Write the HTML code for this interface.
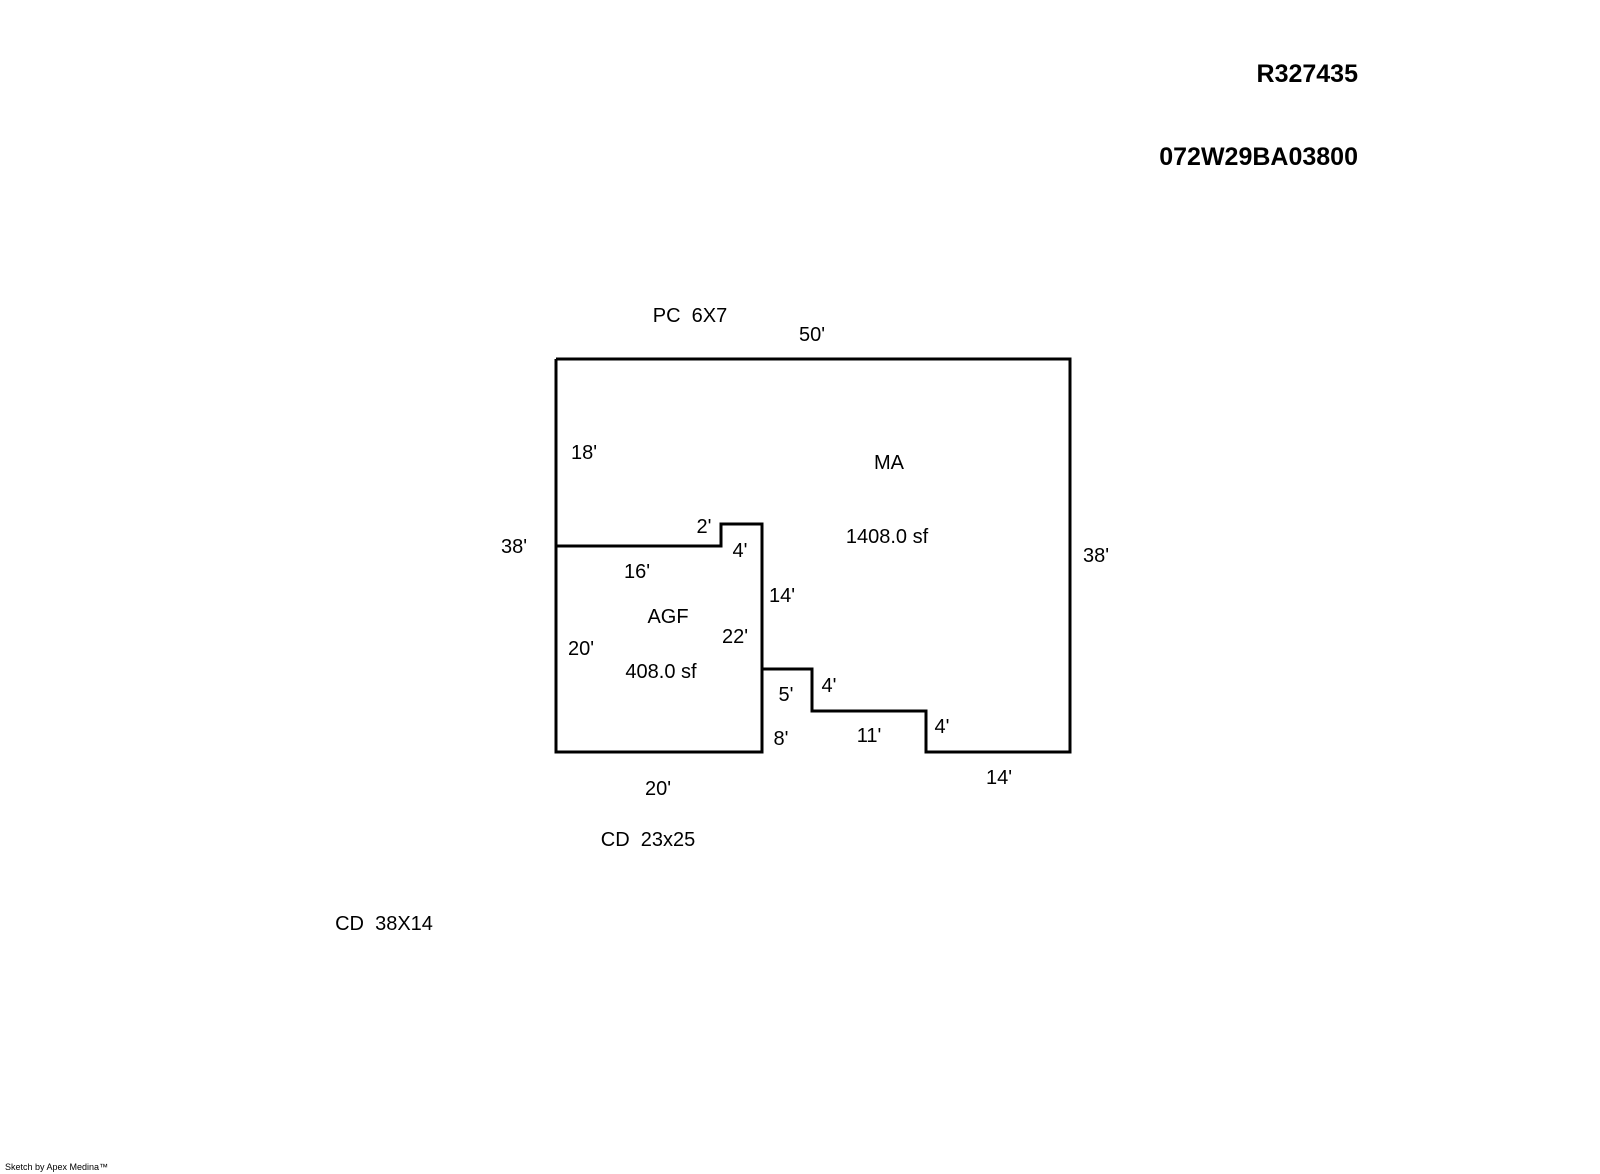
<!DOCTYPE html>
<html><head><style>body{margin:0;background:#fff}svg{display:block}text{white-space:pre}</style></head>
<body>
<svg width="1600" height="1174" xmlns="http://www.w3.org/2000/svg" font-family="Liberation Sans, Arial, sans-serif" xml:space="preserve">
<rect width="1600" height="1174" fill="#fff"/>
<g fill="none" stroke="#000" stroke-width="3">
<polyline points="556,359 1070,359 1070,752 926,752 926,711 812,711 812,669 762,669 762,752 556,752 556,359"/>
<polyline points="556,546 721,546 721,524 762,524 762,669"/>
</g>
<g font-weight="bold" font-size="25" text-anchor="end">
<text x="1358" y="82">R327435</text>
<text x="1358" y="165">072W29BA03800</text>
</g>
<g font-size="20" text-anchor="middle" dominant-baseline="central">
<text x="690" y="316">PC  6X7</text>
<text x="812" y="335">50'</text>
<text x="584" y="453">18'</text>
<text x="889" y="463">MA</text>
<text x="704" y="527">2'</text>
<text x="887" y="537">1408.0 sf</text>
<text x="514" y="547">38'</text>
<text x="1096" y="556">38'</text>
<text x="740" y="551">4'</text>
<text x="637" y="572">16'</text>
<text x="782" y="596">14'</text>
<text x="668" y="617">AGF</text>
<text x="735" y="637">22'</text>
<text x="581" y="649">20'</text>
<text x="661" y="672">408.0 sf</text>
<text x="829" y="686">4'</text>
<text x="786" y="695">5'</text>
<text x="942" y="727">4'</text>
<text x="869" y="736">11'</text>
<text x="781" y="739">8'</text>
<text x="999" y="778">14'</text>
<text x="658" y="789">20'</text>
<text x="648" y="840">CD  23x25</text>
<text x="384" y="924">CD  38X14</text>
</g>
<text x="5" y="1170" font-size="9">Sketch by Apex Medina™</text>
</svg>
</body></html>
